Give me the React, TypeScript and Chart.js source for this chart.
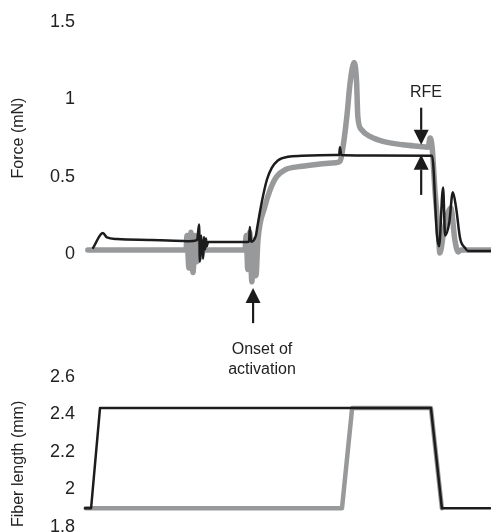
import React, { useEffect, useRef } from 'react';
import { Chart, registerables } from 'chart.js';

Chart.register(...registerables);

// time axis (arbitrary units, 0..100 across the plot width)
const timeMin = 0;
const timeMax = 100;

// tick labels
const forceTicks = [0, 0.5, 1, 1.5];
const lengthTicks = [1.8, 2, 2.2, 2.4, 2.6];

// Force trace – black (thin)
const blackForceT = [2.0, 4.4, 5.4, 7.9, 16.3, 24.4, 25.4, 27.6, 28.1, 28.3, 28.6, 29.1, 29.3, 29.6, 29.8, 30.0, 30.3, 39.9, 40.4, 40.6, 40.9, 42.1, 42.4, 43.5, 44.8, 46.0, 47.5, 50.0, 53.4, 61.6, 62.6, 62.8, 63.1, 68.5, 85.5, 86.7, 87.2, 88.2, 88.7, 89.7, 90.6, 91.4, 92.4, 93.6, 94.3, 100];
const blackForceV = [0.04, 0.136, 0.107, 0.097, 0.091, 0.084, 0.082, 0.09, 0.19, -0.05, 0.12, -0.03, 0.11, 0.03, 0.1, 0.05, 0.078, 0.078, 0.08, 0.175, 0.08, 0.12, 0.168, 0.33, 0.48, 0.557, 0.605, 0.629, 0.635, 0.64, 0.64, 0.69, 0.64, 0.637, 0.635, 0.12, 0.05, 0.43, 0.12, 0.2, 0.4, 0.3, 0.1, 0.04, 0.02, 0.02];

// Force trace – gray (thick)
const grayForceT = [0.7, 24.9, 25.1, 25.6, 26.1, 26.6, 27.1, 27.6, 28.1, 28.6, 29.1, 39.4, 39.7, 40.1, 40.6, 41.1, 41.6, 42.1, 42.6, 44.3, 45.6, 47.2, 49.3, 53.4, 57.4, 61.6, 62.8, 63.3, 64.5, 65.3, 66.3, 66.9, 67.2, 68.1, 70.2, 73.4, 78.3, 82.5, 84.5, 85.0, 85.5, 86.2, 87.0, 87.4, 88.4, 89.4, 90.1, 91.1, 91.9, 92.6, 100];
const grayForceV = [0.026, 0.026, 0.12, -0.09, 0.14, -0.12, 0.12, -0.05, 0.09, -0.02, 0.026, 0.026, 0.12, -0.1, 0.14, -0.18, 0.09, -0.14, 0.09, 0.306, 0.415, 0.5, 0.545, 0.567, 0.58, 0.59, 0.6, 0.65, 0.89, 1.108, 1.238, 1.108, 0.888, 0.804, 0.76, 0.728, 0.706, 0.695, 0.69, 0.75, 0.69, 0.41, 0.16, 0.006, 0.15, 0.266, 0.298, 0.09, 0.013, 0.026, 0.026];

// Fiber length – black
const blackLenT = [0, 1.5, 3.7, 85.2, 87.9, 99.8];
const blackLenV = [1.9, 1.9, 2.435, 2.435, 1.9, 1.9];

// Fiber length – gray
const grayLenT = [0.2, 63.3, 65.8, 85.2, 87.9];
const grayLenV = [1.9, 1.9, 2.435, 2.435, 1.9];

// Annotation arrows (time, tail force, tip force)
const arrowT = [41.4, 82.8, 82.8];
const arrowTail = [-0.447, 0.946, 0.382];
const arrowTip = [-0.22, 0.706, 0.642];

// Annotation texts
const noteText = ['RFE', 'Onset of', 'activation'];
const noteT = [84.0, 43.6, 43.6];
const noteV = [1.043, -0.616, -0.745];

const BLACK = '#1c1c1c';
const GRAY = '#98999b';
const TEXT = '#222222';
const FONT = '"Liberation Sans", Arial, Helvetica, sans-serif';

const pts = (t: number[], v: number[]) => t.map((x, i) => ({ x, y: v[i] }));

const annotationPlugin = {
  id: 'forceNotes',
  afterDatasetsDraw(chart: any) {
    const { ctx, scales } = chart;
    const xs = scales.x;
    const ys = scales.y;
    ctx.save();
    ctx.fillStyle = BLACK;
    ctx.strokeStyle = BLACK;
    for (let i = 0; i < arrowT.length; i++) {
      const px = xs.getPixelForValue(arrowT[i]);
      const tip = ys.getPixelForValue(arrowTip[i]);
      const tail = ys.getPixelForValue(arrowTail[i]);
      const dir = Math.sign(tip - tail);
      const headLen = 15;
      const half = 7.5;
      const base = tip - dir * headLen;
      ctx.lineWidth = 2.2;
      ctx.beginPath();
      ctx.moveTo(px, tail);
      ctx.lineTo(px, base);
      ctx.stroke();
      ctx.beginPath();
      ctx.moveTo(px, tip);
      ctx.lineTo(px - half, base);
      ctx.lineTo(px + half, base);
      ctx.closePath();
      ctx.fill();
    }
    ctx.fillStyle = TEXT;
    ctx.font = '16px ' + FONT;
    ctx.textAlign = 'center';
    ctx.textBaseline = 'middle';
    for (let i = 0; i < noteText.length; i++) {
      ctx.fillText(noteText[i], xs.getPixelForValue(noteT[i]), ys.getPixelForValue(noteV[i]));
    }
    ctx.restore();
  },
};

const yScale = (min: number, max: number, ticks: number[], title: string, align: string) => ({
  type: 'linear',
  min,
  max,
  grid: { display: false, drawTicks: false },
  border: { display: false },
  afterBuildTicks: (s: any) => {
    s.ticks = ticks.map((v) => ({ value: v }));
  },
  afterFit: (s: any) => {
    s.width = 85;
    s.paddingTop = 0;
    s.paddingBottom = 0;
  },
  ticks: {
    padding: 10,
    color: TEXT,
    font: { family: FONT, size: 18 },
    callback: (v: any) => String(v),
  },
  title: {
    display: true,
    text: title,
    align,
    color: TEXT,
    font: { family: FONT, size: 16 },
    padding: { top: 9, bottom: 0 },
  },
});

const xScale = () => ({
  type: 'linear',
  min: timeMin,
  max: timeMax,
  display: false,
});

const lineDs = (data: any[], color: string, width: number, smooth: boolean) => ({
  data,
  borderColor: color,
  borderWidth: width,
  pointRadius: 0,
  tension: 0,
  cubicInterpolationMode: smooth ? 'monotone' : 'default',
  fill: false,
  clip: false,
  borderJoinStyle: 'round',
  borderCapStyle: 'round',
});

export default function App() {
  const topRef = useRef<HTMLCanvasElement>(null);
  const botRef = useRef<HTMLCanvasElement>(null);

  useEffect(() => {
    const top = new Chart(topRef.current as HTMLCanvasElement, {
      type: 'line',
      data: {
        datasets: [
          lineDs(pts(blackForceT, blackForceV), BLACK, 2.5, true),
          lineDs(pts(grayForceT, grayForceV), GRAY, 5.5, true),
        ],
      } as any,
      options: {
        responsive: false,
        animation: false,
        layout: { padding: { top: 22, bottom: 126, left: 0, right: 0 } },
        plugins: { legend: { display: false }, tooltip: { enabled: false } },
        scales: {
          x: xScale(),
          y: yScale(0, 1.5, forceTicks, 'Force (mN)', 'center'),
        } as any,
      },
      plugins: [annotationPlugin],
    } as any);

    const bot = new Chart(botRef.current as HTMLCanvasElement, {
      type: 'line',
      data: {
        datasets: [
          lineDs(pts(blackLenT, blackLenV), BLACK, 2.5, false),
          lineDs(pts(grayLenT, grayLenV), GRAY, 4.5, false),
        ],
      } as any,
      options: {
        responsive: false,
        animation: false,
        layout: { padding: { top: 17, bottom: 5, left: 0, right: 0 } },
        plugins: { legend: { display: false }, tooltip: { enabled: false } },
        scales: {
          x: xScale(),
          y: yScale(1.8, 2.6, lengthTicks, 'Fiber length (mm)', 'start'),
        } as any,
      },
    } as any);

    return () => {
      top.destroy();
      bot.destroy();
    };
  }, []);

  return (
    <div style={{ position: 'fixed', left: 0, top: 0, width: 491, height: 532, overflow: 'hidden', background: '#fff' }}>
      <canvas ref={topRef} width={491} height={380} style={{ position: 'absolute', left: 0, top: 0, width: 491, height: 380 }} />
      <canvas ref={botRef} width={491} height={172} style={{ position: 'absolute', left: 0, top: 360, width: 491, height: 172 }} />
    </div>
  );
}
